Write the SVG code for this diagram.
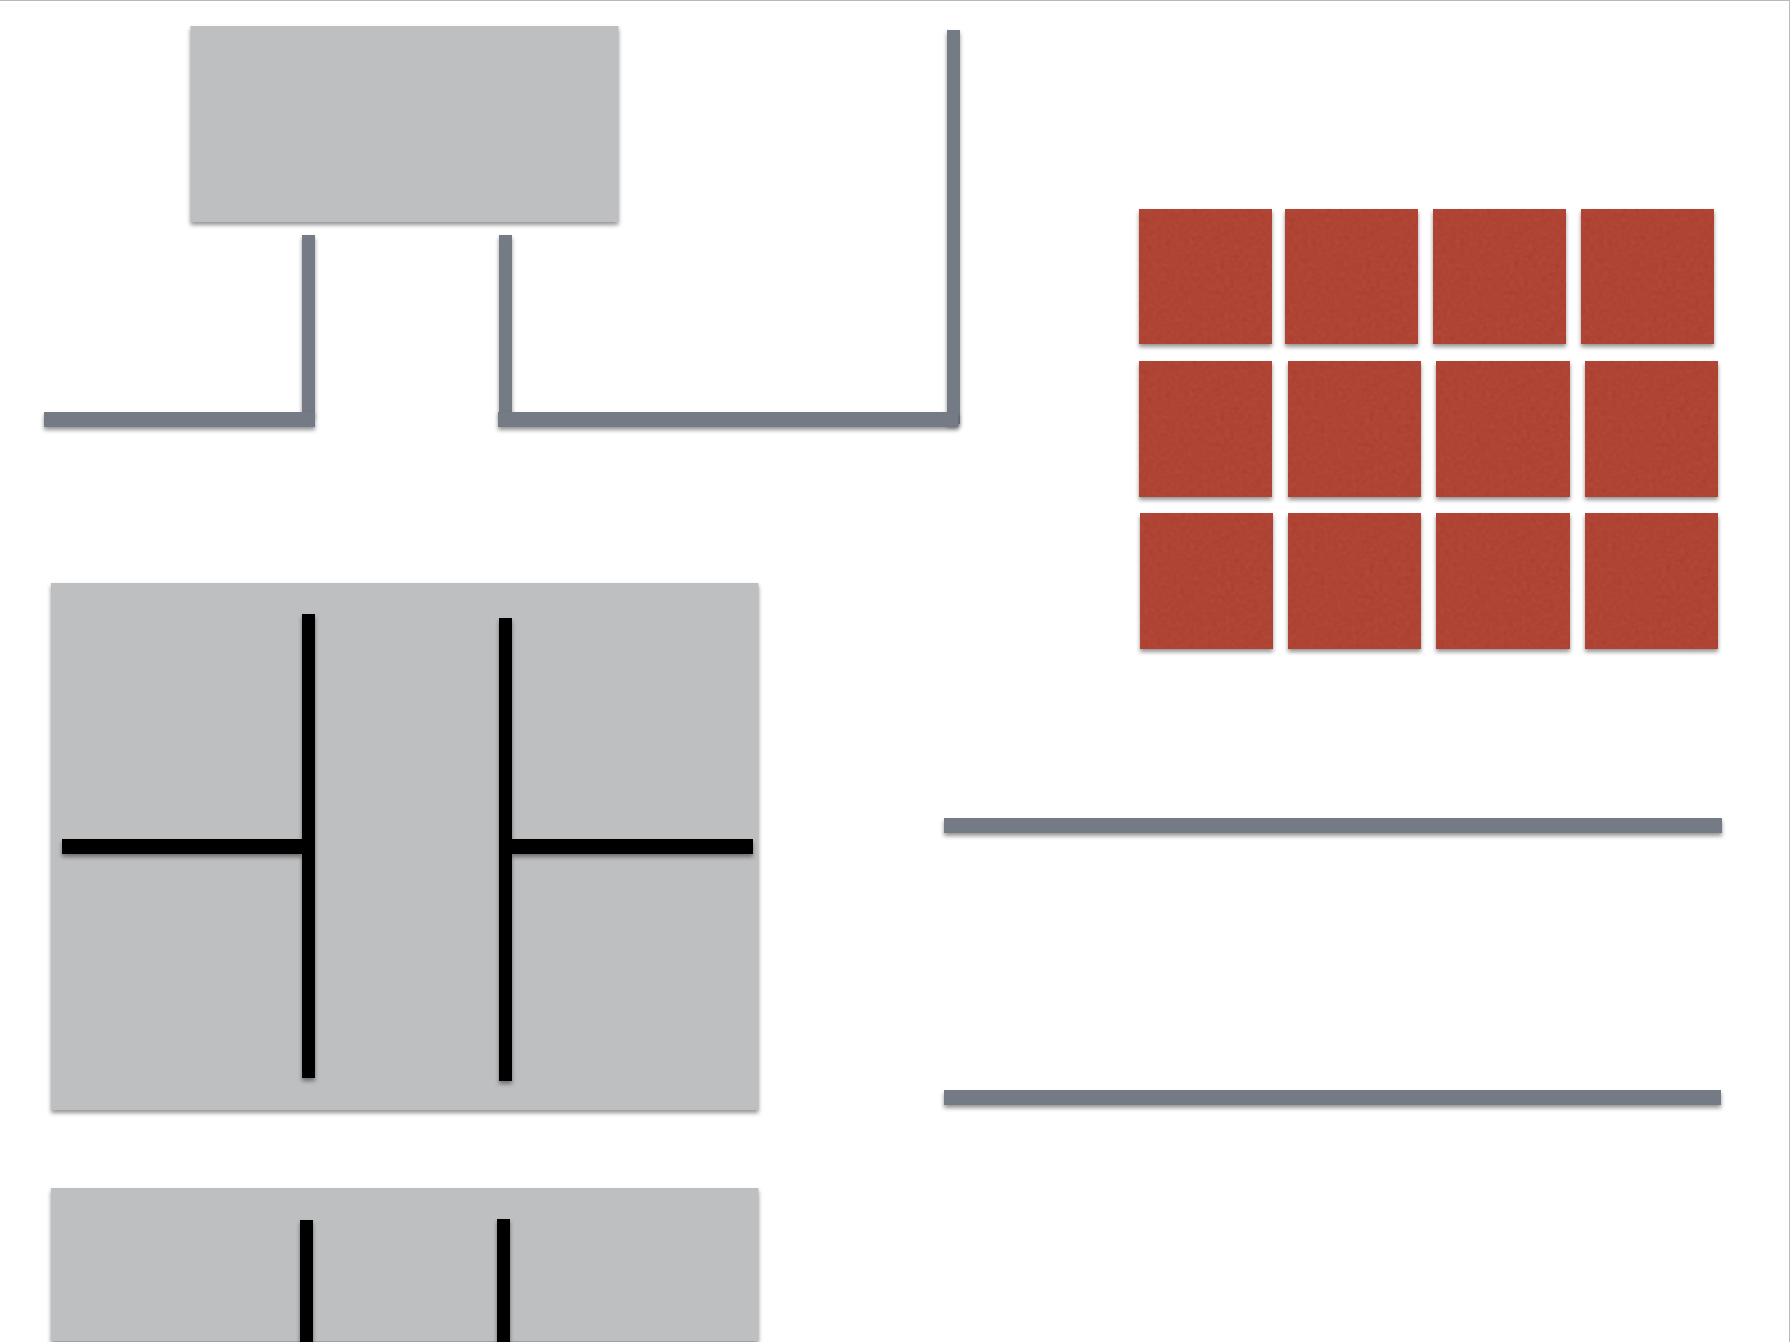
<svg xmlns="http://www.w3.org/2000/svg" width="1790" height="1342" viewBox="0 0 1790 1342">
  <style>
    .panel { fill: #bebfc1; filter: url(#shadow); }
    .bar { fill: #757b85; filter: url(#shadow); }
    .wire { fill: #000000; filter: url(#shadow); }
    .tile { fill: #b04434; filter: url(#paper); }
    .edge { fill: #b4bbc3; }
  </style>
  <defs>
    <filter id="shadow" x="-30" y="-30" width="1900" height="1420" filterUnits="userSpaceOnUse" primitiveUnits="userSpaceOnUse" color-interpolation-filters="sRGB">
      <feGaussianBlur in="SourceAlpha" stdDeviation="2.3"/>
      <feOffset dx="0" dy="3" result="b"/>
      <feFlood flood-color="#000000" flood-opacity="0.42"/>
      <feComposite in2="b" operator="in"/>
      <feMerge>
        <feMergeNode/>
        <feMergeNode in="SourceGraphic"/>
      </feMerge>
    </filter>
    <filter id="paper" x="-10" y="-10" width="160" height="160" filterUnits="userSpaceOnUse" primitiveUnits="userSpaceOnUse" color-interpolation-filters="sRGB">
      <feTurbulence type="fractalNoise" baseFrequency="0.22" numOctaves="4" seed="7" result="n"/>
      <feColorMatrix in="n" type="matrix" values="0.33 0.33 0.33 0 0  0.33 0.33 0.33 0 0  0.33 0.33 0.33 0 0  0 0 0 0 1" result="g"/>
      <feComposite in="SourceGraphic" in2="g" operator="arithmetic" k1="0" k2="1" k3="0.08" k4="-0.04" result="t"/>
      <feComposite in="t" in2="SourceAlpha" operator="in" result="tex"/>
      <feGaussianBlur in="SourceAlpha" stdDeviation="2.3"/>
      <feOffset dx="0" dy="3" result="b"/>
      <feFlood flood-color="#000000" flood-opacity="0.42"/>
      <feComposite in2="b" operator="in"/>
      <feMerge>
        <feMergeNode/>
        <feMergeNode in="tex"/>
      </feMerge>
    </filter>
  </defs>

  <rect width="1790" height="1342" fill="#ffffff"/>
  <rect class="edge" x="0" y="0" width="1790" height="1"/>
  <rect class="edge" x="1789" y="0" width="1" height="1342"/>

  <g id="node-top-panel"><rect class="panel" x="190.5" y="26" width="428" height="196"/></g>
  <g id="node-middle-panel"><rect class="panel" x="51" y="583" width="707.5" height="527"/></g>
  <g id="node-bottom-panel"><rect class="panel" x="51" y="1188" width="707.5" height="153"/></g>

  <g id="node-tiles">
    <g id="tile-1-1" transform="translate(1139 209)"><rect class="tile" width="133" height="135"/></g>
    <g id="tile-1-2" transform="translate(1285 209)"><rect class="tile" width="133" height="135"/></g>
    <g id="tile-1-3" transform="translate(1433 209)"><rect class="tile" width="133" height="135"/></g>
    <g id="tile-1-4" transform="translate(1581 209)"><rect class="tile" width="133" height="135"/></g>
    <g id="tile-2-1" transform="translate(1139 361)"><rect class="tile" width="133" height="136"/></g>
    <g id="tile-2-2" transform="translate(1288 361)"><rect class="tile" width="133" height="136"/></g>
    <g id="tile-2-3" transform="translate(1436 361)"><rect class="tile" width="134" height="136"/></g>
    <g id="tile-2-4" transform="translate(1585 361)"><rect class="tile" width="133" height="136"/></g>
    <g id="tile-3-1" transform="translate(1140 513)"><rect class="tile" width="133" height="136"/></g>
    <g id="tile-3-2" transform="translate(1288 513)"><rect class="tile" width="133" height="136"/></g>
    <g id="tile-3-3" transform="translate(1436 513)"><rect class="tile" width="134" height="136"/></g>
    <g id="tile-3-4" transform="translate(1585 513)"><rect class="tile" width="133" height="136"/></g>
  </g>

  <g id="connectors">
    <rect class="bar" x="302" y="235" width="13" height="180"/>
    <rect class="bar" x="499" y="235" width="13" height="180"/>
    <rect class="bar" x="947" y="30" width="13" height="394"/>
    <rect class="bar" x="44" y="412" width="271" height="15"/>
    <rect class="bar" x="498" y="412" width="460.5" height="15"/>
    <rect class="bar" x="944" y="818" width="778" height="15"/>
    <rect class="bar" x="944" y="1090" width="777" height="15"/>
    <rect class="wire" x="62" y="839" width="240" height="15"/>
    <rect class="wire" x="512" y="839" width="241" height="15"/>
    <rect class="wire" x="302" y="614" width="13" height="464"/>
    <rect class="wire" x="499" y="618" width="13" height="463"/>
    <rect class="wire" x="300" y="1220" width="13" height="122"/>
    <rect class="wire" x="497" y="1219" width="13" height="123"/>
  </g>
</svg>
